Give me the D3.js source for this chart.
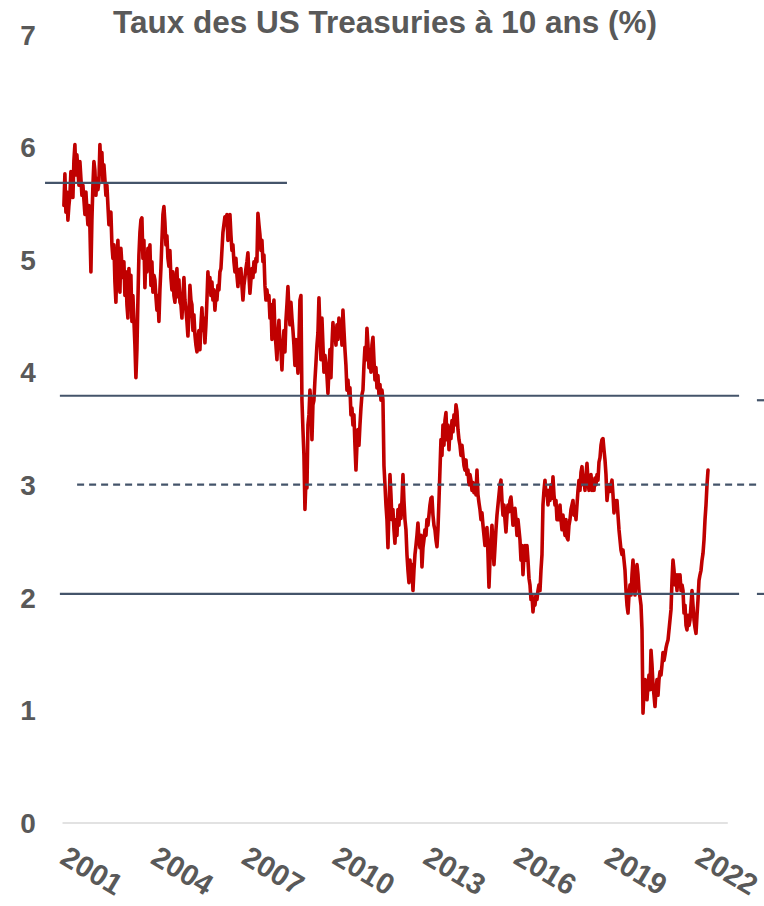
<!DOCTYPE html>
<html>
<head>
<meta charset="utf-8">
<script src="https://cdn.jsdelivr.net/npm/d3@7"></script>
<style>
  body { margin: 0; background: #ffffff; }
  svg { display: block; font-family: "Liberation Sans", Arial, sans-serif; }
</style>
</head>
<body>
<svg id="chart" width="764" height="906"></svg>
<script>
// ---- Data -------------------------------------------------------------
const title = "Taux des US Treasuries à 10 ans (%)";

// Observations are evenly spaced in time between these two dates
const firstObs = "2001-01-24";
const lastObs = "2022-05-13";

// 10-year yield (%), in chronological order
const yield2001to2007 = [
  5.48,5.76,5.42,5.60,5.35,5.48,5.57,5.78,5.66,5.55,
  5.88,6.02,5.75,5.93,5.79,5.66,5.87,5.72,5.57,5.66,
  5.53,5.40,5.60,5.44,5.31,5.48,5.28,4.89,5.35,5.66,
  5.87,5.79,5.57,5.72,5.62,5.69,6.02,5.78,5.95,5.69,
  5.84,5.71,5.57,5.66,5.48,5.31,5.40,5.42,5.13,5.01,
  5.13,4.80,4.62,4.98,5.17,4.86,4.71,5.10,4.95,4.84,
  4.98,4.68,4.89,4.60,4.48,4.92,4.66,4.86,4.45,4.68,
  4.46,4.24,3.95,4.20,4.64,5.04,5.24,5.35,5.37,5.01,
  5.17,4.75,5.04,4.89,5.10,4.92,5.13,4.77,4.98,4.71,
  4.86,4.82,4.67,4.55,4.68,4.45,4.73,4.92,5.17,5.40,
  5.47,5.33,5.13,5.21,5.01,4.94,5.08,4.84,4.73,4.89,
  4.68,4.62,4.77,4.92,4.67,4.82,4.62,4.60,4.48,4.68,
  4.84,4.64,4.55,4.45,4.32,4.51,4.77,4.64,4.60,4.37,
  4.51,4.33,4.24,4.18,4.30,4.37,4.20,4.42,4.57,4.37,
  4.48,4.26,4.42,4.64,4.89,4.73,4.84,4.68,4.80,4.64,
  4.73,4.55,4.68,4.64,4.77,4.73,4.89,4.92,5.08,5.24,
  5.31,5.38,5.31,5.40,5.17,5.24,5.40,5.22,5.08,5.13,
  4.98,4.89,5.01,4.86,4.76,4.91,4.80,4.92,4.77,4.64,
  4.77,4.84,4.92,4.98,5.06,4.86,4.70,4.82,4.92,4.84,
  4.98,4.89,5.01,4.98,5.41,5.31,5.22,5.08,5.17,4.98,
  5.04,4.77,4.64,4.73,4.64,4.68,4.48,4.60,4.29,4.53
];
const yield2008to2014 = [
  4.64,4.36,4.24,4.11,4.33,4.46,4.24,4.20,4.02,4.24,
  4.37,4.18,4.46,4.60,4.76,4.55,4.42,4.62,4.48,4.37,
  4.24,4.06,4.29,4.15,3.99,4.29,4.64,4.68,3.75,3.49,
  3.26,2.78,3.04,2.97,3.53,3.62,3.84,3.71,3.40,3.71,
  3.75,3.93,4.08,4.24,4.35,4.66,4.37,4.11,4.48,4.24,
  4.00,4.15,4.06,3.97,3.81,4.02,4.20,3.95,4.24,4.44,
  4.29,4.37,4.24,4.42,4.29,4.48,4.33,4.45,4.24,4.55,
  4.37,4.20,4.06,3.84,3.93,3.80,3.86,3.62,3.68,3.53,
  3.62,3.35,3.13,3.35,3.49,3.35,3.53,3.68,3.80,3.84,
  4.06,4.22,4.11,4.39,4.24,4.04,4.20,4.00,4.24,4.31,
  4.11,3.93,4.04,3.86,3.97,3.80,3.89,3.75,3.84,3.75,
  3.17,3.00,2.82,2.69,2.44,2.78,3.09,2.91,2.69,2.78,
  2.60,2.48,2.69,2.55,2.78,2.64,2.82,2.70,2.86,3.09,
  2.86,2.69,2.60,2.38,2.24,2.13,2.33,2.20,2.29,2.06,
  2.24,2.38,2.46,2.55,2.66,2.51,2.44,2.55,2.27,2.44,
  2.51,2.60,2.55,2.69,2.64,2.73,2.82,2.88,2.89,2.73,
  2.64,2.60,2.51,2.45,2.60,2.86,3.13,3.40,3.26,3.53,
  3.35,3.57,3.64,3.40,3.53,3.31,3.50,3.41,3.57,3.47,
  3.62,3.53,3.71,3.65,3.49,3.40,3.35,3.26,3.35,3.26,
  3.17,3.13,3.22,3.09,3.13,3.00,3.09,3.04,2.95,3.02,
  2.93,3.00,2.91,3.13,2.91,2.84,2.78,2.69,2.75,2.64
];
const yield2015to2022 = [
  2.55,2.46,2.51,2.62,2.38,2.09,2.33,2.51,2.64,2.46,
  2.29,2.44,2.60,2.73,2.82,2.91,3.00,3.04,2.86,2.73,
  2.82,2.69,2.58,2.73,2.82,2.76,2.86,2.89,2.78,2.64,
  2.73,2.79,2.69,2.55,2.69,2.60,2.51,2.33,2.46,2.20,
  2.38,2.46,2.33,2.46,2.33,2.17,2.11,1.98,2.02,1.87,
  1.98,1.93,2.02,1.98,2.06,2.11,2.06,2.24,2.38,2.82,
  2.95,3.04,2.91,2.95,2.82,2.95,2.86,3.00,2.88,3.07,
  2.91,2.82,2.86,2.69,2.78,2.69,2.82,2.69,2.60,2.73,
  2.62,2.55,2.69,2.53,2.51,2.64,2.69,2.78,2.82,2.86,
  2.73,2.78,2.69,2.82,2.95,3.04,2.95,3.11,3.16,3.00,
  3.06,2.95,3.09,3.19,3.04,2.95,3.00,3.09,2.95,3.04,
  2.95,3.06,3.00,3.09,3.04,3.20,3.24,3.35,3.40,3.41,
  3.31,3.22,3.09,2.86,2.95,3.00,2.94,3.00,3.04,2.91,
  2.75,2.86,2.82,2.86,2.73,2.60,2.51,2.42,2.38,2.42,
  2.33,2.24,2.06,1.93,1.86,2.02,2.11,2.02,2.20,2.33,
  2.15,2.02,2.20,2.29,2.20,2.06,2.00,1.93,1.71,0.97,
  1.18,1.27,1.18,1.09,1.22,1.31,1.18,1.53,1.40,1.22,
  1.13,1.03,1.18,1.27,1.13,1.27,1.34,1.31,1.40,1.51,
  1.44,1.49,1.55,1.59,1.62,1.71,1.80,1.89,2.15,2.33,
  2.24,2.11,2.20,2.06,2.20,2.11,2.20,2.06,2.11,2.06,
  1.86,1.93,1.75,1.71,1.84,1.75,1.80,1.93,2.06,1.93,
  1.80,1.73,1.68,1.84,1.98,2.15,2.20,2.24,2.33,2.39,
  2.51,2.69,2.82,3.00,3.13
];

const yTickValues = [0, 1, 2, 3, 4, 5, 6, 7];
const xTickYears = [2001, 2004, 2007, 2010, 2013, 2016, 2019, 2022];

// Horizontal reference levels (%), with the period each one spans (decimal years)
const levelValues = [5.68, 3.79, 3.75, 3.00, 2.03, 2.03];
const levelFrom   = [2000.44, 2000.93, 2023.98, 2001.50, 2000.93, 2023.98];
const levelTo     = [2008.44, 2023.39, 2025.00, 2023.98, 2023.39, 2025.00];
const levelDashed = [false, false, false, true, false, false];

// ---- Drawing ----------------------------------------------------------
const textColor = "#595959";
const svg = d3.select("#chart");

const parseDay = d3.timeParse("%Y-%m-%d");
const yearDate = v => {
  const yr = Math.floor(v);
  const s = new Date(yr, 0, 1), e = new Date(yr + 1, 0, 1);
  return new Date(+s + (v - yr) * (e - s));
};

const yields = yield2001to2007.concat(yield2008to2014, yield2015to2022);
const obsTime = d3.scaleLinear()
  .domain([0, yields.length - 1])
  .range([+parseDay(firstObs), +parseDay(lastObs)]);
const series = yields.map((v, i) => ({ date: new Date(obsTime(i)), value: v }));

const x = d3.scaleTime()
  .domain([new Date(2001, 0, 1), new Date(2023, 0, 1)])
  .range([62, 727.3]);
const y = d3.scaleLinear()
  .domain([0, 7])
  .range([822.5, 34.3]);

// Title
svg.append("text")
  .attr("x", 385)
  .attr("y", 33)
  .attr("text-anchor", "middle")
  .attr("font-size", 31.5)
  .attr("font-weight", "bold")
  .attr("fill", textColor)
  .text(title);

// Y axis labels
const yAxis = svg.append("g")
  .attr("transform", "translate(28,0)")
  .call(d3.axisLeft(y).tickValues(yTickValues).tickFormat(d3.format("d")).tickSize(0).tickPadding(0));
yAxis.select(".domain").remove();
yAxis.selectAll("text")
  .attr("text-anchor", "middle")
  .attr("x", 0)
  .attr("dy", "0.35em")
  .attr("font-size", 28)
  .attr("font-weight", "bold")
  .attr("font-family", "'Liberation Sans', Arial, sans-serif")
  .attr("fill", textColor);

// X axis: baseline and rotated year labels
const xAxis = svg.append("g")
  .attr("transform", `translate(0,${y(0)})`)
  .call(d3.axisBottom(x)
    .tickValues(xTickYears.map(yr => new Date(yr, 0, 1)))
    .tickFormat(d3.timeFormat("%Y"))
    .tickSize(0)
    .tickSizeOuter(0)
    .tickPadding(0));
xAxis.select(".domain")
  .attr("stroke", "#d9d9d9")
  .attr("stroke-width", 1.6);
xAxis.selectAll("text")
  .attr("text-anchor", "start")
  .attr("y", 0)
  .attr("dy", 0)
  .attr("transform", "translate(-4,40) rotate(31)")
  .attr("font-size", 29.5)
  .attr("font-weight", "bold")
  .attr("font-family", "'Liberation Sans', Arial, sans-serif")
  .attr("fill", textColor);

// Yield line
const line = d3.line()
  .x(d => x(d.date))
  .y(d => y(d.value));
svg.append("path")
  .datum(series)
  .attr("fill", "none")
  .attr("stroke", "#c00000")
  .attr("stroke-width", 3.6)
  .attr("stroke-linejoin", "round")
  .attr("stroke-linecap", "round")
  .attr("d", line);

// Reference levels
const levels = levelValues.map((v, i) => ({
  value: v, from: yearDate(levelFrom[i]), to: yearDate(levelTo[i]), dashed: levelDashed[i]
}));
svg.append("g")
  .selectAll("line")
  .data(levels)
  .join("line")
  .attr("x1", d => x(d.from))
  .attr("x2", d => x(d.to))
  .attr("y1", d => y(d.value))
  .attr("y2", d => y(d.value))
  .attr("stroke", "#44546a")
  .attr("stroke-width", 2.2)
  .attr("stroke-dasharray", d => d.dashed ? "7,5" : null);
</script>
</body>
</html>
